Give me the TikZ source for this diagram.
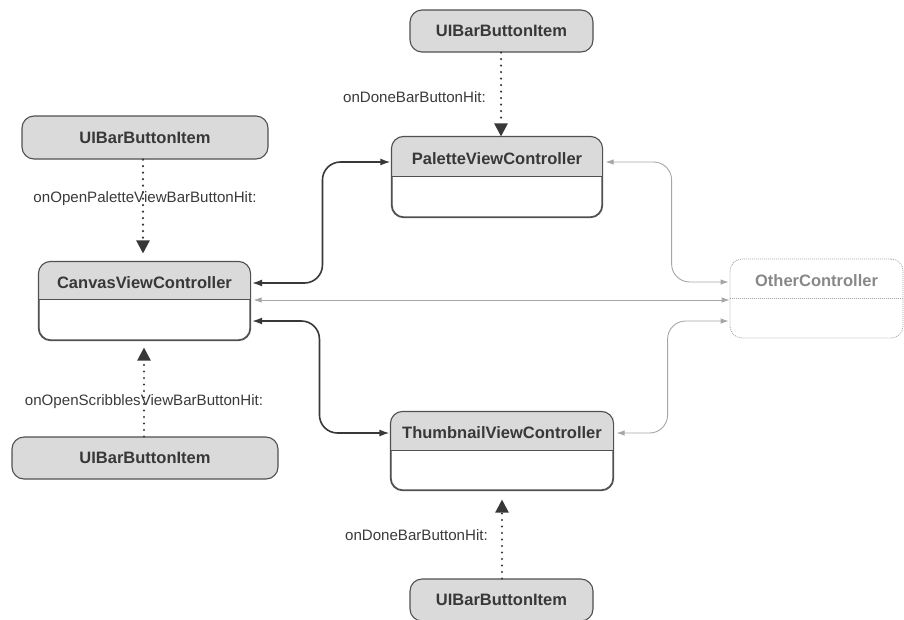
\documentclass[tikz,border=0pt]{standalone}
\usepackage{fontspec}
\setmainfont{Liberation Sans}
\usetikzlibrary{arrows.meta,calc}

\definecolor{inkdark}{HTML}{383838}
\definecolor{boxline}{HTML}{505050}
\definecolor{hdrfill}{HTML}{DADADA}
\definecolor{ghost}{HTML}{A6A6A6}
\definecolor{ghosttext}{HTML}{888888}
\definecolor{labeltext}{HTML}{3A3A3A}

\newcommand\boxtitlefont{\fontsize{16.5}{18}\selectfont\bfseries}
\newcommand\actionfont{\fontsize{15.1}{17}\selectfont}

\tikzset{
  boxedge/.style={draw=boxline, line width=1.1pt},
  buttonbox/.style={boxedge, fill=hdrfill, rounded corners=12pt, inner sep=0pt,
    text=inkdark, font=\boxtitlefont},
  classframe/.style={boxedge, fill=white, rounded corners=12pt, inner sep=0pt},
  titletext/.style={text=inkdark, font=\boxtitlefont, inner sep=0pt},
  actionlabel/.style={text=labeltext, font=\actionfont, inner sep=0pt},
  ownership/.style={draw=inkdark, line width=1.6pt, rounded corners=18pt,
    {Latex[length=10pt,width=7pt]}-{Latex[length=10pt,width=7pt]}},
  weaklink/.style={draw=ghost, line width=0.9pt, rounded corners=18pt,
    {Latex[length=8pt,width=5.5pt]}-{Latex[length=8pt,width=5.5pt]}},
  action/.style={draw=inkdark, line width=2.4pt, dash pattern=on 0pt off 6.5pt,
    line cap=round, -{Triangle[length=13pt,width=13pt]}},
}

% class box: name, centre x, centre y, width, height, header height, title
\newcommand\classnode[7]{%
  \node[classframe, minimum width=#4pt, minimum height=#5pt] (#1) at (#2,#3) {};
  \begin{scope}
    \clip[rounded corners=12pt] (#1.north west) rectangle (#1.south east);
    \fill[hdrfill] (#1.north west) rectangle ($(#1.north east)+(0,#6)$);
  \end{scope}
  \draw[boxedge, rounded corners=12pt] (#1.north west) rectangle (#1.south east);
  \draw[boxedge] ($(#1.north west)+(0,#6)$) -- ($(#1.north east)+(0,#6)$);
  \node[titletext] (#1-title) at ($(#1.north)+(0,{#6/2+2})$) {#7};
}

\begin{document}
\begin{tikzpicture}[x=1pt, y=-1pt]
  \useasboundingbox (0,0) rectangle (904,619);

  % controllers
  \classnode{canvas}{144.5}{301}{211}{78}{38}{CanvasViewController}
  \classnode{palette}{497}{177}{210}{80}{40}{PaletteViewController}
  \classnode{thumb}{502}{451}{222}{78}{39}{ThumbnailViewController}

  % the other controller, drawn faint and dotted
  \node[draw=ghost, line width=0.8pt, dash pattern=on 1pt off 1pt,
        rounded corners=12pt, minimum width=173pt, minimum height=79pt,
        inner sep=0pt] (other) at (816.5,298.5) {};
  \draw[ghost, line width=0.8pt, dash pattern=on 1pt off 1pt]
    ($(other.north west)+(0,40)$) -- ($(other.north east)+(0,40)$);
  \node[titletext, text=ghosttext] (other-title) at ($(other.north)+(0,22)$) {OtherController};

  % bar button items
  \node[buttonbox, minimum width=183pt, minimum height=42pt] (topbtn) at (501.5,31) {UIBarButtonItem};
  \node[buttonbox, minimum width=246pt, minimum height=43pt] (leftbtn) at (145,137.5) {UIBarButtonItem};
  \node[buttonbox, minimum width=266pt, minimum height=42pt] (scribbtn) at (145,458) {UIBarButtonItem};
  \node[buttonbox, minimum width=183pt, minimum height=42pt] (botbtn) at (501.5,600) {UIBarButtonItem};

  % target-action connections
  \coordinate (topbtn-out) at ($(topbtn.south)+(-0.5,0)$);
  \coordinate (leftbtn-out) at ($(leftbtn.south)+(-2,0)$);
  \coordinate (scribbtn-out) at ($(scribbtn.north)+(-1,0)$);
  \coordinate (botbtn-out) at ($(botbtn.north)+(0.5,0)$);
  \draw[action] (topbtn-out) -- (topbtn-out |- palette.north);
  \draw[action, shorten >=8pt] (leftbtn-out) -- (leftbtn-out |- canvas.north);
  \draw[action, shorten >=7pt] (scribbtn-out) -- (scribbtn-out |- canvas.south);
  \draw[action, shorten >=9pt] (botbtn-out) -- (botbtn-out |- thumb.south);

  \node[actionlabel, anchor=east] (lbl-done-top) at (486,97) {onDoneBarButtonHit:};
  \node[actionlabel] (lbl-palette) at (145,199) {onOpenPaletteViewBarButtonHit:};
  \node[actionlabel] (lbl-scribbles) at (144,402) {onOpenScribblesViewBarButtonHit:};
  \node[actionlabel, anchor=east] (lbl-done-bot) at (488,535) {onDoneBarButtonHit:};

  % canvas owns palette and thumbnail controllers
  \coordinate (canvas-up) at ($(canvas.east)+(1.5,-18)$);
  \coordinate (canvas-down) at ($(canvas.east)+(1.5,20)$);
  \coordinate (palette-in) at ($(palette.west)+(-1,-15)$);
  \coordinate (thumb-in) at ($(thumb.west)+(-1,-18)$);
  \coordinate (lane-up) at ($(palette.west)+(-69,0)$);
  \coordinate (lane-down) at ($(thumb.west)+(-71,0)$);
  \draw[ownership] (canvas-up) -| (lane-up |- palette-in) -- (palette-in);
  \draw[ownership] (canvas-down) -| (lane-down |- thumb-in) -- (thumb-in);

  % links to the other controller
  \coordinate (canvas-mid) at ($(canvas.east)+(3,-1)$);
  \coordinate (palette-out) at ($(palette.east)+(3,-15)$);
  \coordinate (thumb-out) at ($(thumb.east)+(3,-18)$);
  \coordinate (other-up) at ($(other.west)+(-1,-16.5)$);
  \coordinate (other-down) at ($(other.west)+(-1,22.5)$);
  \coordinate (lane-other-up) at ($(other.west)+(-58,0)$);
  \coordinate (lane-other-down) at ($(other.west)+(-62,0)$);
  \draw[weaklink] (canvas-mid) -- (canvas-mid -| other.west);
  \draw[weaklink] (palette-out) -| (lane-other-up |- other-up) -- (other-up);
  \draw[weaklink] (thumb-out) -| (lane-other-down |- other-down) -- (other-down);
\end{tikzpicture}
\end{document}
